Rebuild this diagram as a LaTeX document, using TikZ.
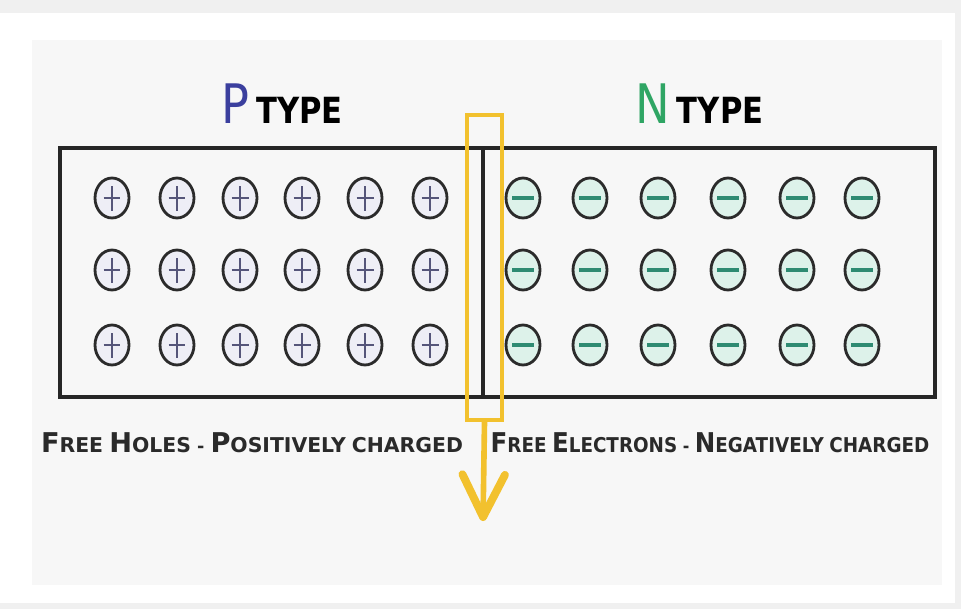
\documentclass[tikz,border=0pt]{standalone}
\usepackage{fontspec}
\usetikzlibrary{shapes.geometric, arrows.meta, positioning, calc, backgrounds}
\usepackage{xcolor}
\newfontfamily\titlefont[FakeStretch=0.85]{DejaVu Sans}
\newfontfamily\labelfont{DejaVu Sans}
\definecolor{pagegray}{HTML}{F0F0F0}
\definecolor{panelbg}{HTML}{F7F7F7}
\definecolor{pblue}{HTML}{3B3F9E}
\definecolor{ngreen}{HTML}{2FA564}
\definecolor{gold}{HTML}{F2C12E}
\definecolor{holefill}{HTML}{EEEEF6}
\definecolor{plusgray}{HTML}{55557A}
\definecolor{elecfill}{HTML}{DDF2EA}
\definecolor{minusgreen}{HTML}{2E8B72}
\definecolor{ringgray}{HTML}{2B2B2B}
\definecolor{labelgray}{HTML}{2A2A2A}
\newcommand{\bigsc}[2]{{\fontsize{15.5}{16}\selectfont #1}{\fontsize{11.6}{12}\selectfont #2}}

\begin{document}
\begin{tikzpicture}[
    x=0.02cm, y=-0.02cm,
    every node/.style={font=\titlefont},
    slab/.style={rectangle, draw=black!85, line width=2.2pt, minimum height=4.98cm},
    hole/.style={ellipse, draw=ringgray, line width=1.6pt, fill=holefill, inner sep=0pt,
                 minimum width=0.68cm, minimum height=0.80cm,
                 path picture={\draw[plusgray, line width=1.2pt]
                   ([xshift=-0.17cm]path picture bounding box.center) -- ([xshift=0.17cm]path picture bounding box.center)
                   ([yshift=-0.25cm]path picture bounding box.center) -- ([yshift=0.25cm]path picture bounding box.center);}},
    electron/.style={ellipse, draw=ringgray, line width=1.6pt, fill=elecfill, inner sep=0pt,
                 minimum width=0.68cm, minimum height=0.80cm,
                 path picture={\draw[minusgreen, line width=2.3pt]
                   ([xshift=-0.22cm]path picture bounding box.center) -- ([xshift=0.22cm]path picture bounding box.center);}},
    sidelabel/.style={font=\labelfont\bfseries, text=labelgray, anchor=base},
    flow/.style={-{Straight Barb[length=0.85cm, width=0.85cm, line width=4.5pt, round]}, gold, line width=3.2pt}
]
    \useasboundingbox (0,0) rectangle (961,609);
    \fill[pagegray] (0,0) rectangle (961,609);
    \fill[white] (0,13) rectangle (955,603);
    \fill[panelbg] (32,40) rectangle (942,585);

    % titles
    \node[anchor=base west, inner sep=0pt] (ptitle) at (221,123) {{\color{pblue}\fontsize{31}{32}\selectfont P}\hspace{0.14cm}{\fontsize{20.5}{21}\selectfont\bfseries TYPE}};
    \node[anchor=base west, inner sep=0pt] (ntitle) at (635,123) {{\color{ngreen}\fontsize{31}{32}\selectfont N}\hspace{0.14cm}{\fontsize{20.5}{21}\selectfont\bfseries TYPE}};

    % the two regions
    \node[slab, minimum width=8.46cm] (pside) at (271.5,272.5) {};
    \node[slab, minimum width=9.04cm] (nside) at (709,272.5) {};

    % carriers
    \foreach \col/\xx in {1/112, 2/177, 3/240, 4/302, 5/365, 6/430}
      \foreach \row/\yy in {1/198, 2/270, 3/345}
        \node[hole] (h\row\col) at (\xx,\yy) {};
    \foreach \col/\xx in {1/523, 2/590, 3/658, 4/728, 5/797, 6/862}
      \foreach \row/\yy in {1/198, 2/270, 3/345}
        \node[electron] (e\row\col) at (\xx,\yy) {};

    % junction marker
    \node[draw=gold, line width=2pt, minimum width=0.70cm, minimum height=6.1cm] (zone) at (484.5,267.5) {};
    \coordinate (zoneend) at (483,521);
    \draw[flow] (zone.south) -- (zoneend);

    % captions
    \node[sidelabel] (plabel) at (252,452) {\bigsc{F}{REE} \bigsc{H}{OLES} - \bigsc{P}{OSITIVELY} {\fontsize{11.6}{12}\selectfont CHARGED}};
    \node[sidelabel] (nlabel) at (710,452) {\scalebox{0.9}[1]{\bigsc{F}{REE} \bigsc{E}{LECTRONS} - \bigsc{N}{EGATIVELY} {\fontsize{11.6}{12}\selectfont CHARGED}}};
\end{tikzpicture}
\end{document}
